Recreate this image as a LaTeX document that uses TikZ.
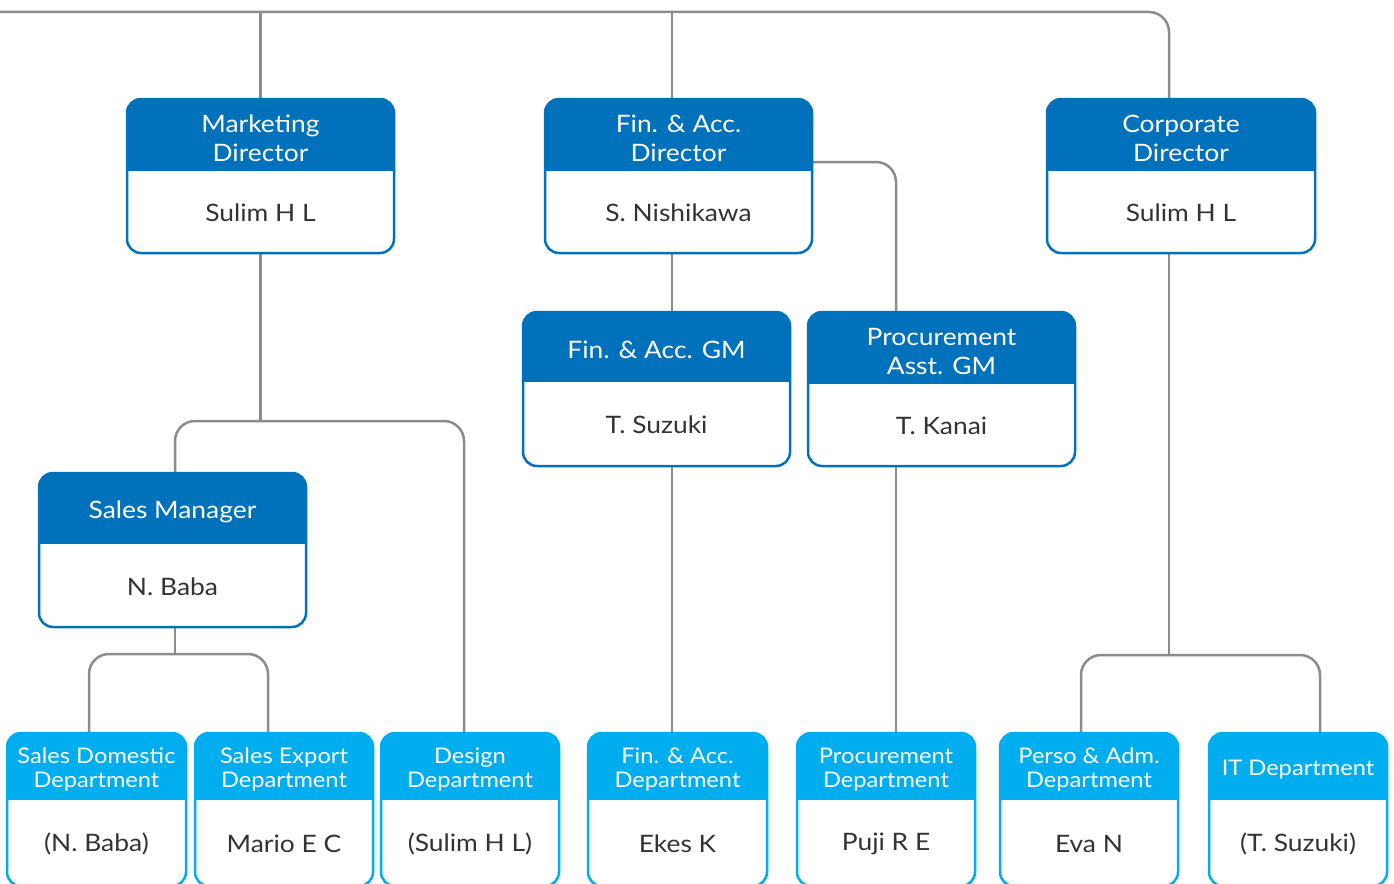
\documentclass[tikz,border=0pt]{standalone}
\usepackage{fontspec}
\setmainfont{Lato}[FakeStretch=1.1]
\definecolor{dblue}{HTML}{0071BA}
\definecolor{lblue}{HTML}{00AEEF}
\definecolor{lgray}{HTML}{8C8C8C}
\definecolor{txt}{HTML}{333333}
\pgfdeclarelayer{bg}
\pgfsetlayers{bg,main}
\tikzset{
 obox/.style={draw=#1, fill=white, line width=2.5pt, rounded corners=14pt, anchor=north west, inner sep=0pt, outer sep=0pt},
 conn/.style={draw=lgray, line width=2.5pt, rounded corners=20pt},
 hdrdblue/.style={text=white, font=\fontsize{24}{29}\selectfont, align=center, inner sep=0pt},
 hdrlblue/.style={text=white, font=\fontsize{21.5}{24}\selectfont, align=center, inner sep=0pt},
 nm/.style={text=txt, font=\fontsize{24}{29}\selectfont, inner sep=0pt},
}
\newcommand\orgbox[9]{%
 \node[obox=#7, minimum width=#4pt, minimum height=#5pt, path picture={\fill[#7, sharp corners] (path picture bounding box.north west) rectangle ([yshift=-#6pt]path picture bounding box.north east);}] (#1) at (#2,#3) {};
 \node[hdr#7] (#1-h) at ([yshift=-#6pt/2-3pt]#1.north) {#8};
 \node[nm] (#1-n) at ([yshift={-(#6pt+(#5pt-#6pt)/2)-1pt}]#1.north) {#9};
}
\begin{document}
\begin{tikzpicture}[x=1pt,y=-1pt]
\useasboundingbox (0,0) rectangle (1394,883);
\orgbox{md}{127}{99}{267}{154}{72}{dblue}{Marketing\\Director}{Sulim H L}
\orgbox{fd}{545}{99}{267}{154}{72}{dblue}{Fin. \& Acc.\\Director}{S. Nishikawa}
\orgbox{cd}{1047}{99}{268}{154}{72}{dblue}{Corporate\\Director}{Sulim H L}
\orgbox{fg}{523}{312}{267}{154}{70}{dblue}{Fin. \& Acc. GM}{T. Suzuki}
\orgbox{pg}{808}{312}{267}{154}{72}{dblue}{Procurement\\Asst. GM}{T. Kanai}
\orgbox{sm}{39}{473}{267}{154}{71}{dblue}{Sales Manager}{N. Baba}
\orgbox{sd}{7}{733}{179}{153}{67}{lblue}{Sales Domestic\\Department}{(N. Baba)}
\orgbox{se}{195}{733}{178}{153}{67}{lblue}{Sales Export\\Department}{Mario E C}
\orgbox{dd}{381}{733}{178}{153}{67}{lblue}{Design\\Department}{(Sulim H L)}
\orgbox{fa}{588}{733}{179}{153}{67}{lblue}{Fin. \& Acc.\\Department}{Ekes K}
\orgbox{pd}{797}{733}{178}{153}{67}{lblue}{Procurement\\Department}{Puji R E}
\orgbox{pa}{1000}{733}{178}{153}{67}{lblue}{Perso \& Adm.\\Department}{Eva N}
\orgbox{it}{1209}{733}{178}{153}{67}{lblue}{IT Department}{(T. Suzuki)}
\begin{pgfonlayer}{bg}
\coordinate (L) at (0,12);
\coordinate (mjy) at (0,421);
\coordinate (sjy) at (0,654);
\coordinate (cjy) at (0,655);
\coordinate (cdt) at ([xshift=-12pt]cd.north);
\coordinate (cdb) at ([xshift=-12pt]cd.south);
\coordinate (fdt) at ([xshift=-6.5pt]fd.north);
\coordinate (fdb) at ([xshift=-6.5pt]fd.south);
\coordinate (fde) at ([yshift=14pt]fd.east);
\coordinate (fgb) at ([xshift=15.5pt]fg.south);
\coordinate (pgt) at ([xshift=-45.5pt]pg.north);
\coordinate (pgb) at ([xshift=-45.5pt]pg.south);
\coordinate (smt) at ([xshift=2.5pt]sm.north);
\coordinate (smb) at ([xshift=2.5pt]sm.south);
\coordinate (ddt) at ([xshift=-6pt]dd.north);
\coordinate (sdt) at ([xshift=-7.5pt]sd.north);
\coordinate (set) at ([xshift=-16pt]se.north);
\coordinate (pat) at ([xshift=-8pt]pa.north);
\coordinate (itt) at ([xshift=22pt]it.north);
\draw[conn] (L) -| (cdt);
\draw[conn] (md.north) -- (md.north |- L);
\draw[conn] (fdt) -- (fdt |- L);
\draw[conn] (md.south) -- (md.south |- mjy);
\draw[conn] (smt) -- (smt |- mjy) -- (ddt |- mjy) -- (ddt);
\draw[conn] (smb) -- (smb |- sjy);
\draw[conn] (sdt) -- (sdt |- sjy) -- (set |- sjy) -- (set);
\draw[conn] (fdb) -- (fdb |- fg.north);
\draw[conn] (fgb) -- (fgb |- fa.north);
\draw[conn] (fde) -| (pgt);
\draw[conn] (pgb) -- (pgb |- pd.north);
\draw[conn] (cdb) -- (cdb |- cjy);
\draw[conn] (pat) -- (pat |- cjy) -- (itt |- cjy) -- (itt);
\end{pgfonlayer}
\end{tikzpicture}
\end{document}
